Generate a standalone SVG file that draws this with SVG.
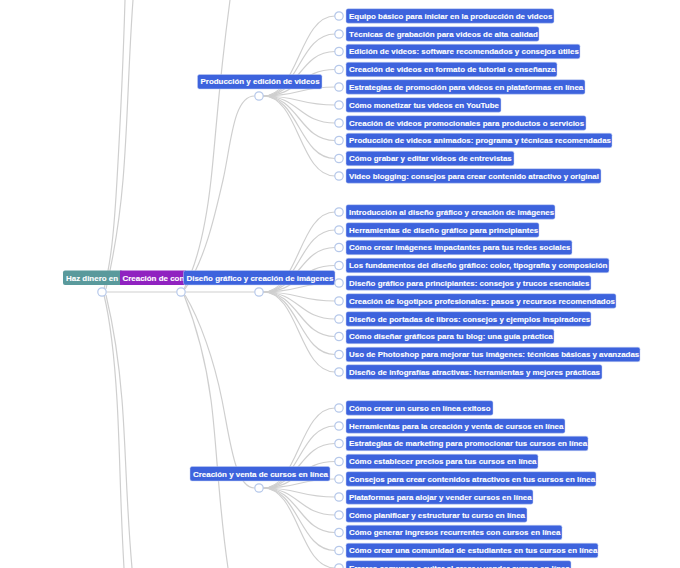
<svg xmlns="http://www.w3.org/2000/svg" width="680" height="568" viewBox="0 0 680 568">
<style>
text{font-family:"Liberation Sans",Arial,sans-serif;font-size:7.95px;font-weight:700;fill:#fff;dominant-baseline:central;stroke:#fff;stroke-width:.12}
.l{fill:none;stroke:#cfcfcf;stroke-width:1.2}
.c{fill:#fff;stroke:#b6c8ea;stroke-width:1.2}
.b{fill:#3d63dd;stroke:#c5d0f3;stroke-width:.5}
.t{fill:#5a9a9c}.p{fill:#9022c0}
</style>
<rect width="680" height="568" fill="#fff"/>
<g id="connectors">
<path class="l" d="M104 289C111 262 114 232 117 180S123 70 125 0"/>
<path class="l" d="M106 289C110 270 118 240 123 180S128 70 133 0"/>
<path class="l" d="M104 295C110 320 114 350 117 400S120 500 124 568"/>
<path class="l" d="M106 295C112 320 118 350 122 400S126 500 132 568"/>
<path class="l" d="M106.500 292H176.500M185.500 292H254.500"/>
<path class="l" d="M184 289C198 262 206 225 211 180S218 90 230 0"/>
<path class="l" d="M185 289C205 260 215 215 223 180S233 96 254.500 96"/>
<path class="l" d="M184 295C194 320 205 355 211 400S218 500 228 568"/>
<path class="l" d="M185 295C200 320 214 360 222 400S235 488 254.500 488"/>
<g id="c-prod">
<path class="l" d="M263 96C299 96 299 16 335 16"/><path class="l" d="M263 96C299 96 299 34 335 34"/><path class="l" d="M263 96C299 96 299 51.500 335 51.500"/><path class="l" d="M263 96C299 96 299 69.500 335 69.500"/><path class="l" d="M263 96C299 96 299 87 335 87"/><path class="l" d="M263 96C299 96 299 105 335 105"/><path class="l" d="M263 96C299 96 299 123 335 123"/><path class="l" d="M263 96C299 96 299 140.500 335 140.500"/><path class="l" d="M263 96C299 96 299 158.500 335 158.500"/><path class="l" d="M263 96C299 96 299 176 335 176"/>
</g>
<g id="c-dis">
<path class="l" d="M263 292C299 292 299 212 335 212"/><path class="l" d="M263 292C299 292 299 230 335 230"/><path class="l" d="M263 292C299 292 299 247.500 335 247.500"/><path class="l" d="M263 292C299 292 299 265.500 335 265.500"/><path class="l" d="M263 292C299 292 299 283 335 283"/><path class="l" d="M263 292C299 292 299 301 335 301"/><path class="l" d="M263 292C299 292 299 319 335 319"/><path class="l" d="M263 292C299 292 299 336.500 335 336.500"/><path class="l" d="M263 292C299 292 299 354.500 335 354.500"/><path class="l" d="M263 292C299 292 299 372 335 372"/>
</g>
<g id="c-cur">
<path class="l" d="M263 488C299 488 299 408 335 408"/><path class="l" d="M263 488C299 488 299 426 335 426"/><path class="l" d="M263 488C299 488 299 443.500 335 443.500"/><path class="l" d="M263 488C299 488 299 461.500 335 461.500"/><path class="l" d="M263 488C299 488 299 479 335 479"/><path class="l" d="M263 488C299 488 299 497 335 497"/><path class="l" d="M263 488C299 488 299 515 335 515"/><path class="l" d="M263 488C299 488 299 532.500 335 532.500"/><path class="l" d="M263 488C299 488 299 550.500 335 550.500"/><path class="l" d="M263 488C299 488 299 568 335 568"/>
</g>
</g>
<g id="root"><rect class="t" x="63" y="270.500" width="60" height="14.500" rx="2"/><text x="66" y="278">Haz dinero en</text><circle class="c" cx="102" cy="292" r="4.200"/></g>
<g id="creacion"><rect class="p" x="120" y="270.500" width="66" height="14.500"/><text x="122.500" y="278">Creación de con</text><circle class="c" cx="181" cy="292" r="4.200"/></g>
<g id="diseno"><rect class="b" x="183.500" y="270.500" width="151.500" height="14.500" rx="2"/><text x="186.500" y="278">Diseño gráfico y creación de imágenes</text><circle class="c" cx="259" cy="292" r="4.200"/></g>
<g id="produccion"><rect class="b" x="197.500" y="74.500" width="124.500" height="14.500" rx="2"/><text x="200.500" y="81.500">Producción y edición de videos</text><circle class="c" cx="259" cy="96" r="4.200"/></g>
<g id="cursos"><rect class="b" x="190" y="466.500" width="140" height="14.500" rx="2"/><text x="193" y="474">Creación y venta de cursos en línea</text><circle class="c" cx="259" cy="488" r="4.200"/></g>
<g id="p1"><circle class="c" cx="339" cy="16" r="4.200"/><rect class="b" x="346" y="8.700" width="208" height="14.500" rx="2"/><text x="349" y="16">Equipo básico para iniciar en la producción de videos</text></g>
<g id="p2"><circle class="c" cx="339" cy="34" r="4.200"/><rect class="b" x="346" y="26.700" width="193" height="14.500" rx="2"/><text x="349" y="34">Técnicas de grabación para videos de alta calidad</text></g>
<g id="p3"><circle class="c" cx="339" cy="51.500" r="4.200"/><rect class="b" x="346" y="44.200" width="234" height="14.500" rx="2"/><text x="349" y="51.500">Edición de videos: software recomendados y consejos útiles</text></g>
<g id="p4"><circle class="c" cx="339" cy="69.500" r="4.200"/><rect class="b" x="346" y="62.200" width="211" height="14.500" rx="2"/><text x="349" y="69.500">Creación de videos en formato de tutorial o enseñanza</text></g>
<g id="p5"><circle class="c" cx="339" cy="87" r="4.200"/><rect class="b" x="346" y="79.700" width="239" height="14.500" rx="2"/><text x="349" y="87">Estrategias de promoción para videos en plataformas en línea</text></g>
<g id="p6"><circle class="c" cx="339" cy="105" r="4.200"/><rect class="b" x="346" y="97.700" width="155" height="14.500" rx="2"/><text x="349" y="105">Cómo monetizar tus videos en YouTube</text></g>
<g id="p7"><circle class="c" cx="339" cy="123" r="4.200"/><rect class="b" x="346" y="115.700" width="240" height="14.500" rx="2"/><text x="349" y="123">Creación de videos promocionales para productos o servicios</text></g>
<g id="p8"><circle class="c" cx="339" cy="140.500" r="4.200"/><rect class="b" x="346" y="133.200" width="266" height="14.500" rx="2"/><text x="349" y="140.500">Producción de videos animados: programa y técnicas recomendadas</text></g>
<g id="p9"><circle class="c" cx="339" cy="158.500" r="4.200"/><rect class="b" x="346" y="151.200" width="168" height="14.500" rx="2"/><text x="349" y="158.500">Cómo grabar y editar videos de entrevistas</text></g>
<g id="p10"><circle class="c" cx="339" cy="176" r="4.200"/><rect class="b" x="346" y="168.700" width="255" height="14.500" rx="2"/><text x="349" y="176">Video blogging: consejos para crear contenido atractivo y original</text></g>
<g id="d1"><circle class="c" cx="339" cy="212" r="4.200"/><rect class="b" x="346" y="204.700" width="209" height="14.500" rx="2"/><text x="349" y="212">Introducción al diseño gráfico y creación de imágenes</text></g>
<g id="d2"><circle class="c" cx="339" cy="230" r="4.200"/><rect class="b" x="346" y="222.700" width="193" height="14.500" rx="2"/><text x="349" y="230">Herramientas de diseño gráfico para principiantes</text></g>
<g id="d3"><circle class="c" cx="339" cy="247.500" r="4.200"/><rect class="b" x="346" y="240.200" width="226" height="14.500" rx="2"/><text x="349" y="247.500">Cómo crear imágenes impactantes para tus redes sociales</text></g>
<g id="d4"><circle class="c" cx="339" cy="265.500" r="4.200"/><rect class="b" x="346" y="258.200" width="263" height="14.500" rx="2"/><text x="349" y="265.500">Los fundamentos del diseño gráfico: color, tipografía y composición</text></g>
<g id="d5"><circle class="c" cx="339" cy="283" r="4.200"/><rect class="b" x="346" y="275.700" width="245" height="14.500" rx="2"/><text x="349" y="283">Diseño gráfico para principiantes: consejos y trucos esenciales</text></g>
<g id="d6"><circle class="c" cx="339" cy="301" r="4.200"/><rect class="b" x="346" y="293.700" width="270" height="14.500" rx="2"/><text x="349" y="301">Creación de logotipos profesionales: pasos y recursos recomendados</text></g>
<g id="d7"><circle class="c" cx="339" cy="319" r="4.200"/><rect class="b" x="346" y="311.700" width="245" height="14.500" rx="2"/><text x="349" y="319">Diseño de portadas de libros: consejos y ejemplos inspiradores</text></g>
<g id="d8"><circle class="c" cx="339" cy="336.500" r="4.200"/><rect class="b" x="346" y="329.200" width="208" height="14.500" rx="2"/><text x="349" y="336.500">Cómo diseñar gráficos para tu blog: una guía práctica</text></g>
<g id="d9"><circle class="c" cx="339" cy="354.500" r="4.200"/><rect class="b" x="346" y="347.200" width="294" height="14.500" rx="2"/><text x="349" y="354.500">Uso de Photoshop para mejorar tus imágenes: técnicas básicas y avanzadas</text></g>
<g id="d10"><circle class="c" cx="339" cy="372" r="4.200"/><rect class="b" x="346" y="364.700" width="256" height="14.500" rx="2"/><text x="349" y="372">Diseño de infografías atractivas: herramientas y mejores prácticas</text></g>
<g id="v1"><circle class="c" cx="339" cy="408" r="4.200"/><rect class="b" x="346" y="400.700" width="147" height="14.500" rx="2"/><text x="349" y="408">Cómo crear un curso en línea exitoso</text></g>
<g id="v2"><circle class="c" cx="339" cy="426" r="4.200"/><rect class="b" x="346" y="418.700" width="219" height="14.500" rx="2"/><text x="349" y="426">Herramientas para la creación y venta de cursos en línea</text></g>
<g id="v3"><circle class="c" cx="339" cy="443.500" r="4.200"/><rect class="b" x="346" y="436.200" width="242" height="14.500" rx="2"/><text x="349" y="443.500">Estrategias de marketing para promocionar tus cursos en línea</text></g>
<g id="v4"><circle class="c" cx="339" cy="461.500" r="4.200"/><rect class="b" x="346" y="454.200" width="192" height="14.500" rx="2"/><text x="349" y="461.500">Cómo establecer precios para tus cursos en línea</text></g>
<g id="v5"><circle class="c" cx="339" cy="479" r="4.200"/><rect class="b" x="346" y="471.700" width="250" height="14.500" rx="2"/><text x="349" y="479">Consejos para crear contenidos atractivos en tus cursos en línea</text></g>
<g id="v6"><circle class="c" cx="339" cy="497" r="4.200"/><rect class="b" x="346" y="489.700" width="187" height="14.500" rx="2"/><text x="349" y="497">Plataformas para alojar y vender cursos en línea</text></g>
<g id="v7"><circle class="c" cx="339" cy="515" r="4.200"/><rect class="b" x="346" y="507.700" width="181" height="14.500" rx="2"/><text x="349" y="515">Cómo planificar y estructurar tu curso en línea</text></g>
<g id="v8"><circle class="c" cx="339" cy="532.500" r="4.200"/><rect class="b" x="346" y="525.200" width="216" height="14.500" rx="2"/><text x="349" y="532.500">Cómo generar ingresos recurrentes con cursos en línea</text></g>
<g id="v9"><circle class="c" cx="339" cy="550.500" r="4.200"/><rect class="b" x="346" y="543.200" width="252" height="14.500" rx="2"/><text x="349" y="550.500">Cómo crear una comunidad de estudiantes en tus cursos en línea</text></g>
<g id="v10"><circle class="c" cx="339" cy="568" r="4.200"/><rect class="b" x="346" y="560.700" width="225" height="14.500" rx="2"/><text x="349" y="568">Errores comunes a evitar al crear y vender cursos en línea</text></g>
</svg>
